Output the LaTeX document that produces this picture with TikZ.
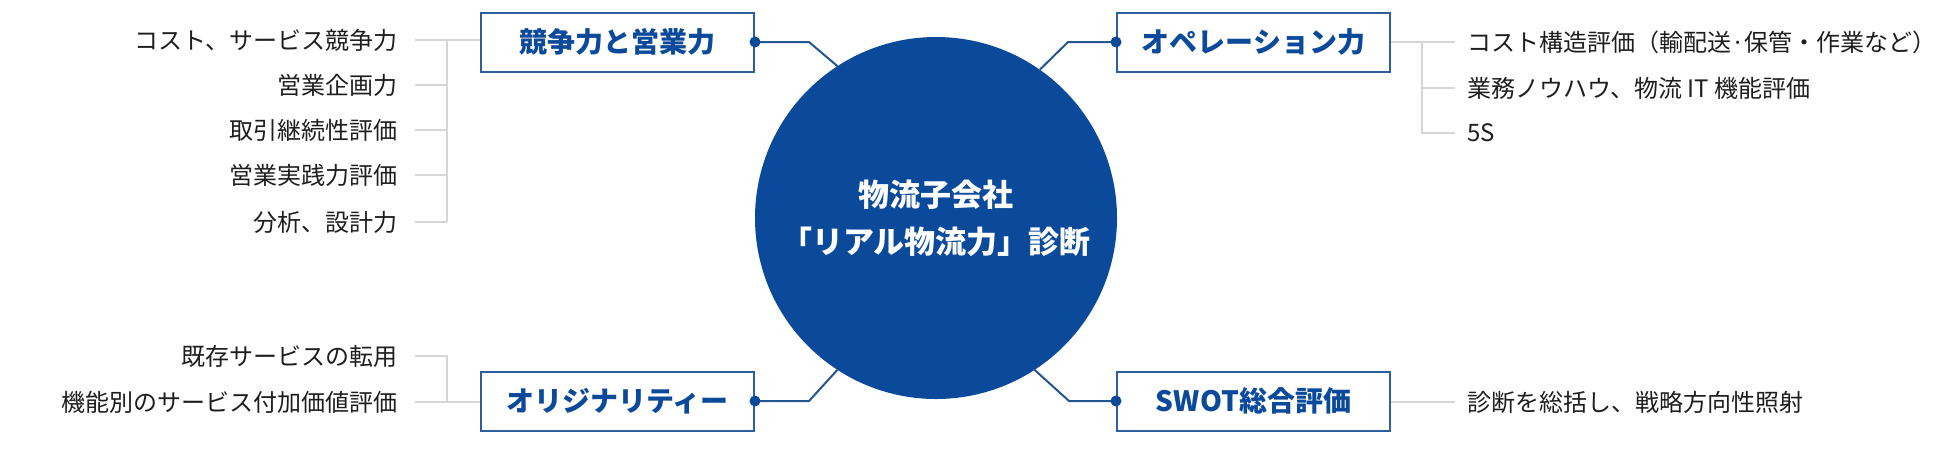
\documentclass[tikz,border=0pt]{standalone}
\usepackage{fontspec}
\setmainfont{Noto Sans CJK JP}
\definecolor{mainblue}{HTML}{0B4A9B}
\definecolor{boxblue}{HTML}{2E5E9E}
\definecolor{linkblue}{HTML}{23568F}
\definecolor{treegray}{HTML}{D6D6D6}
\definecolor{itemtext}{HTML}{1E1E1E}
\tikzset{
  catbox/.style={draw=boxblue, line width=2pt, fill=white, minimum width=273pt, minimum height=59pt,
    inner sep=0pt, text=mainblue, font=\fontsize{28}{32}\selectfont\bfseries},
  itemtxt/.style={inner sep=0pt, text=itemtext, font=\fontsize{24}{28}\selectfont},
  litem/.style={itemtxt, anchor=east},
  ritem/.style={itemtxt, anchor=west},
  treeline/.style={draw=treegray, line width=1.5pt},
  linkline/.style={draw=linkblue, line width=2pt},
  dotmark/.style={circle, fill=mainblue, inner sep=0pt, minimum size=11pt},
  hubnode/.style={circle, fill=mainblue, inner sep=0pt, minimum size=362pt, text=white,
    align=center, font=\fontsize{31}{47}\selectfont\bfseries}
}
\begin{document}
\begin{tikzpicture}[x=1pt, y=-1pt]
\useasboundingbox (0,0) rectangle (1950,448);

% hub
\node[hubnode] (hub) at (936,218) {物流子会社\\「リアル物流力」診断};

% category boxes
\node[catbox] (b1) at (617.5,42) {競争力と営業力};
\node[catbox] (b2) at (1253.5,42) {オペレーション力};
\node[catbox] (b3) at (617.5,401) {オリジナリティー};
\node[catbox] (b4) at (1253.5,401) {SWOT総合評価};

% elbow coordinates
\coordinate (c1) at (809,42);
\coordinate (c2) at (1068,42);
\coordinate (c3) at (809,401);
\coordinate (c4) at (1069,401);

% links box -> hub
\draw[linkline] (b1.east) -- (c1) -- (hub.123.3);
\draw[linkline] (b2.west) -- (c2) -- (hub.55.1);
\draw[linkline] (b3.east) -- (c3) -- (hub.237.5);
\draw[linkline] (b4.west) -- (c4) -- (hub.303.3);
\node[dotmark] (d1) at (b1.east) {};
\node[dotmark] (d2) at (b2.west) {};
\node[dotmark] (d3) at (b3.east) {};
\node[dotmark] (d4) at (b4.west) {};

% left top items
\node[litem] (l1) at (398,40) {コスト、サービス競争力};
\node[litem] (l2) at (398,85) {営業企画力};
\node[litem] (l3) at (398,130) {取引継続性評価};
\node[litem] (l4) at (398,175) {営業実践力評価};
\node[litem] (l5) at (398,222) {分析、設計力};
\coordinate (jl1) at (447,40);
\coordinate (jl5) at (447,222);
\draw[treeline] ([xshift=17pt]l1.east) -- (b1.west |- l1.east);
\draw[treeline] (jl1) -- (jl5);
\draw[treeline] ([xshift=17pt]l2.east) -- (jl1 |- l2.east);
\draw[treeline] ([xshift=17pt]l3.east) -- (jl1 |- l3.east);
\draw[treeline] ([xshift=17pt]l4.east) -- (jl1 |- l4.east);
\draw[treeline] ([xshift=17pt]l5.east) -- (jl5);

% left bottom items
\node[litem] (l6) at (398,356) {既存サービスの転用};
\node[litem] (l7) at (398,402) {機能別のサービス付加価値評価};
\coordinate (jl6) at (447,356);
\coordinate (jl7) at (447,402);
\draw[treeline] ([xshift=17pt]l6.east) -- (jl6) -- (jl7);
\draw[treeline] ([xshift=17pt]l7.east) -- (b3.west |- l7.east);

% right top items
\node[ritem] (r1) at (1467,42) {コスト構造評価（輸配送·保管・作業など）};
\node[ritem] (r2) at (1467,88) {業務ノウハウ、物流 IT 機能評価};
\node[ritem] (r3) at (1467,133) {5S};
\coordinate (jr1) at (1422,42);
\coordinate (jr3) at (1422,133);
\draw[treeline] (b2.east |- r1.west) -- ([xshift=-12pt]r1.west);
\draw[treeline] (jr1) -- (jr3) -- ([xshift=-12pt]r3.west);
\draw[treeline] (jr1 |- r2.west) -- ([xshift=-12pt]r2.west);

% right bottom item
\node[ritem] (r4) at (1467,402) {診断を総括し、戦略方向性照射};
\draw[treeline] (b4.east |- r4.west) -- ([xshift=-12pt]r4.west);
\end{tikzpicture}
\end{document}
